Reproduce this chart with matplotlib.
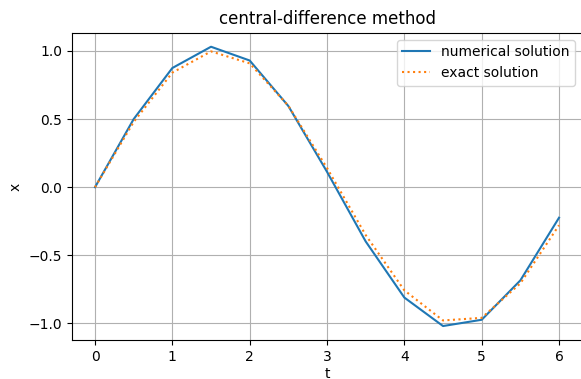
import matplotlib
matplotlib.use("Agg")
import matplotlib.pyplot as plt

# Data
t = [0.0, 0.5, 1.0, 1.5, 2.0, 2.5, 3.0, 3.5, 4.0, 4.5, 5.0, 5.5, 6.0]
x_numerical = [0.0, 0.5, 0.875, 1.031, 0.930, 0.596, 0.113, -0.398,
               -0.810, -1.019, -0.973, -0.684, -0.224]
x_exact = [0.0, 0.479, 0.841, 0.997, 0.909, 0.598, 0.141, -0.351,
           -0.757, -0.978, -0.959, -0.706, -0.279]

fig = plt.figure(figsize=(5.81, 3.79), dpi=100)
# the reference is cropped tightly; right spine sits just past the edge
ax = fig.add_axes([0.1236, 0.1029, 0.8785, 0.8106])
ax.plot(t, x_numerical, label='numerical solution')
ax.plot(t, x_exact, ':', label='exact solution')

ax.set_title('central-difference method')
ax.set_xlabel('t', labelpad=2)
ax.set_ylabel('x')
ax.grid(True)
ax.legend(loc='upper right')

fig.savefig('out.png')
